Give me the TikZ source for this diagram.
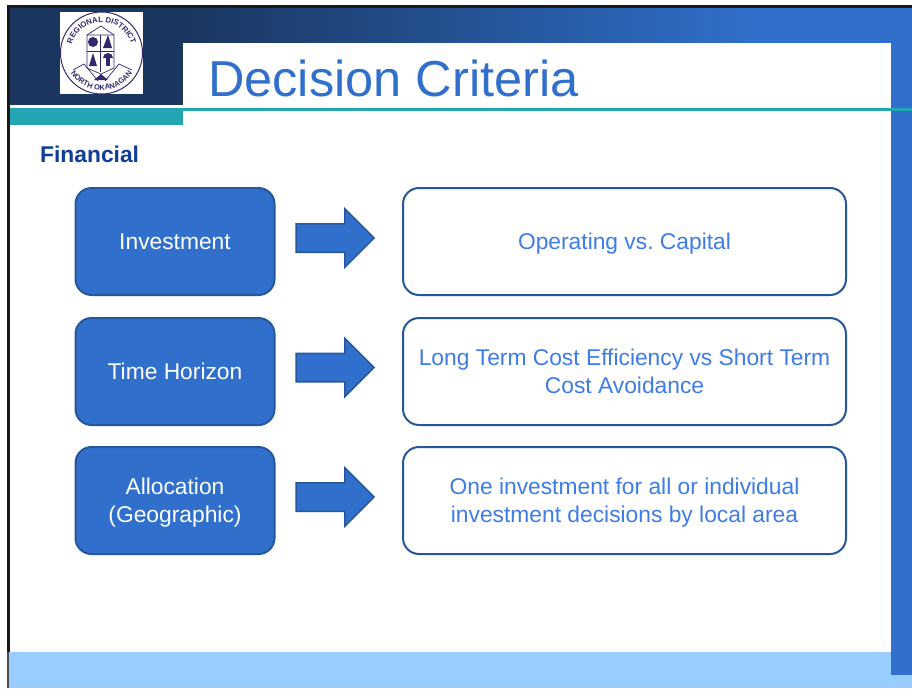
\documentclass[tikz,border=0pt]{standalone}
\usepackage{xcolor}
\usepackage{fontspec}
\setmainfont{Liberation Sans}
\usepackage{tikz}
\usetikzlibrary{shapes.arrows, decorations.text}
\definecolor{slideblue}{RGB}{48, 112, 204}
\definecolor{headernavy}{RGB}{26, 54, 95}
\definecolor{edgeblue}{RGB}{38, 86, 156}
\definecolor{bandteal}{RGB}{36, 165, 178}
\definecolor{footblue}{RGB}{153, 204, 255}
\definecolor{textblue}{RGB}{62, 124, 232}
\definecolor{headingblue}{RGB}{15, 63, 150}
\definecolor{crestpurple}{RGB}{50, 40, 110}
\frenchspacing
\tikzset{
  causebox/.style={draw=edgeblue, line width=2pt, fill=slideblue, rounded corners=16pt, minimum width=199pt, minimum height=107pt, text=white, align=center, text depth=0pt, font=\fontsize{22.8}{28}\selectfont, inner sep=0pt},
  effectbox/.style={draw=edgeblue, line width=2pt, fill=white, rounded corners=16pt, minimum width=443pt, minimum height=107pt, text=textblue, align=center, text depth=0pt, font=\fontsize{22.8}{28}\selectfont, inner sep=0pt},
  blockarrow/.style={single arrow, draw=edgeblue, line width=1.5pt, fill=slideblue, minimum width=58pt, minimum height=78pt, single arrow head extend=15pt, text height=27pt, text depth=0pt, text width=1pt, inner sep=0pt},
  crestline/.style={draw=crestpurple, line width=0.7pt}
}

\begin{document}
\begin{tikzpicture}[x=1pt, y=-1pt]
  \useasboundingbox (0,0) rectangle (912,688);
  \fill[white] (0,0) rectangle (912,688);

  % Header band
  \fill[headernavy] (8,8) rectangle (183,105);
  \shade[left color=headernavy, right color=slideblue] (183,8) rectangle (760,105);
  \fill[slideblue] (760,8) rectangle (912,43);
  \fill[slideblue] (891,43) rectangle (912,675);

  % Footer
  \fill[footblue] (9,652) rectangle (891,688);
  \fill[footblue] (891,675) rectangle (912,688);

  % Title panel
  \fill[white] (183,43) rectangle (891,108);
  \fill[bandteal] (183,108) rectangle (912,111);
  \fill[bandteal] (9,108) rectangle (183,125);
  \node[anchor=base west, text=slideblue, font=\fontsize{50.5}{50}\selectfont, inner sep=0pt] (title) at (208,96) {Decision Criteria};

  % Slide edge
  \fill[black!90] (7,5) rectangle (912,8);
  \fill[black!90] (7,5) rectangle (10,652);
  \fill[black!70] (7,652) rectangle (9,688);

  % Crest
  \fill[white] (60,12) rectangle (143,94);
  \draw[crestline, line width=1pt] (101.5,53) circle (41);
  \path[decorate, decoration={text along path, text align=center, text={|\fontsize{7.8}{8}\selectfont\bfseries\color{crestpurple}|REGIONAL DISTRICT}}] (71,47.6) arc[start angle=190, end angle=350, radius=31];
  \path[decorate, decoration={text along path, text align=center, text={|\fontsize{7.5}{8}\selectfont\bfseries\color{crestpurple}|NORTH OKANAGAN}}] (66.7,65.7) arc[start angle=160, end angle=20, radius=37];
  \draw[crestline] (87,35) -- (114,35) -- (114,68) -- (101,74) -- (87,68) -- cycle;
  \draw[crestline] (100.7,35) -- (100.7,72);
  \draw[crestline] (87,51) -- (114,51);
  \draw[crestline] (87,35) -- (101,26) -- (114,35);
  \fill[crestpurple] (93,42) circle (5);
  \fill[crestpurple] (103,48) -- (108,35) -- (112,48) -- cycle;
  \fill[crestpurple] (89,66) -- (93,53) -- (97,66) -- cycle;
  \fill[crestpurple] (103,58) arc[start angle=180, end angle=360, radius=5] -- cycle;
  \fill[crestpurple] (106,58) rectangle (110,66);
  \draw[crestline] (73,70) -- (84,64) -- (98,81);
  \draw[crestline] (132,70) -- (119,64) -- (105,81);
  \fill[crestpurple] (94,80) -- (101,74) -- (108,80) -- cycle;

  % Heading
  \node[anchor=base west, text=headingblue, font=\fontsize{22.8}{28}\selectfont\bfseries, inner sep=0pt] (heading) at (40,162) {Financial};

  % Row 1
  \node[causebox] (investment) at (175,241.5) {Investment};
  \node[blockarrow] (arrowone) at (328,238) {};
  \node[effectbox] (capital) at (624.5,241.5) {Operating vs. Capital};

  % Row 2
  \node[causebox] (horizon) at (175,371.5) {Time Horizon};
  \node[blockarrow] (arrowtwo) at (328,367.5) {};
  \node[effectbox] (longterm) at (624.5,371.5) {Long Term Cost Efficiency vs Short Term\\Cost Avoidance};

  % Row 3
  \node[causebox] (allocation) at (175,500.5) {Allocation\\(Geographic)};
  \node[blockarrow] (arrowthree) at (328,497) {};
  \node[effectbox] (localarea) at (624.5,500.5) {One investment for all or individual\\investment decisions by local area};
\end{tikzpicture}
\end{document}
